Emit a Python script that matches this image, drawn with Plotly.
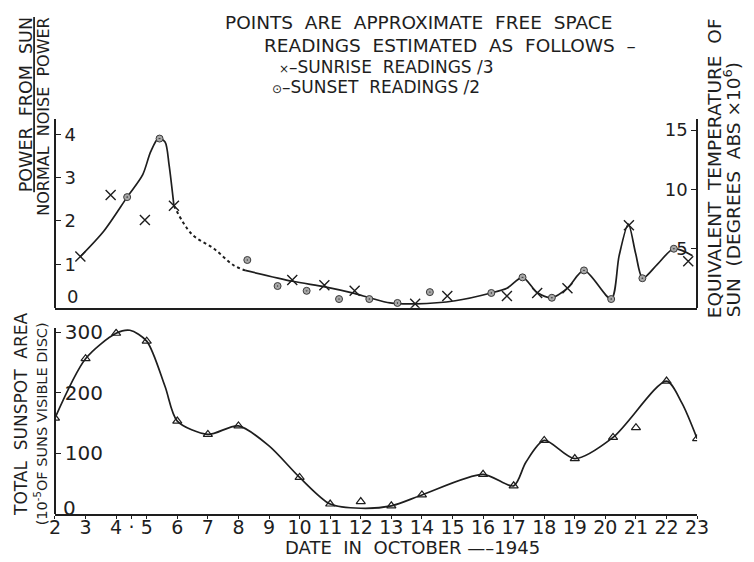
import plotly.graph_objects as go

# ---------------- data ----------------
# upper panel: power from sun / normal noise power
sunrise_dates = [2.83, 3.82, 4.94, 5.89, 9.76, 10.81, 11.80, 13.78, 14.83, 16.78, 17.77, 18.76, 20.77, 22.71]
sunrise_vals = [1.18, 2.60, 2.02, 2.35, 0.64, 0.52, 0.39, 0.09, 0.27, 0.27, 0.34, 0.45, 1.90, 1.07]

sunset_dates = [4.36, 5.42, 8.29, 9.28, 10.23, 11.29, 12.28, 13.20, 14.26, 16.27, 17.29, 18.25, 19.30, 20.19, 21.21, 22.24]
sunset_vals = [2.55, 3.90, 1.10, 0.50, 0.39, 0.20, 0.20, 0.11, 0.36, 0.34, 0.70, 0.23, 0.86, 0.20, 0.68, 1.36]

# hand-drawn fitted curve (solid early part, dotted gap, solid later part)
curve1_dates = [2.83, 3.6, 4.36, 4.87, 5.13, 5.39, 5.60, 5.73, 5.89]
curve1_vals = [1.18, 1.77, 2.55, 3.07, 3.60, 3.91, 3.82, 3.30, 2.35]

dotted_dates = [5.89, 6.47, 7.20, 7.84, 8.22]
dotted_vals = [2.35, 1.70, 1.36, 0.98, 0.86]

curve2_dates = [8.22, 9.77, 10.83, 11.79, 12.29, 12.96, 13.81, 15.09, 16.26, 16.78, 17.29, 17.77, 18.25,
                18.76, 19.30, 20.19, 20.45, 20.75, 20.99, 21.22, 21.70, 22.24, 22.85]
curve2_vals = [0.86, 0.61, 0.48, 0.33, 0.23, 0.11, 0.09, 0.16, 0.34, 0.45, 0.70, 0.35, 0.23,
               0.45, 0.86, 0.20, 1.20, 1.93, 1.25, 0.68, 1.00, 1.36, 1.20]

# lower panel: total sunspot area (10^-5 of sun's visible disc)
spot_dates = [2, 3, 4, 5, 6, 7, 8, 10, 11, 12, 13, 14, 16, 17, 18, 19, 20.25, 21, 22, 23]
spot_vals = [158, 256, 298, 285, 153, 131, 145, 60, 16, 20, 13, 31, 65, 46, 121, 91, 126, 142, 219, 124]

spot_curve_dates = [2, 3, 4, 4.45, 5, 5.6, 6, 7, 8, 9, 10, 11, 12, 13, 14, 16, 17, 17.4, 18, 19, 20.25, 22, 22.5, 23]
spot_curve_vals = [158, 256, 298, 303, 285, 210, 153, 131, 145, 112, 60, 16, 9, 13, 31, 65, 46, 85, 121, 91, 126, 219, 183, 124]

day_ticks = list(range(2, 24))
day_labels = [str(d) for d in day_ticks]

power_ticks = [1, 2, 3, 4]
temp_ticks = [5, 10, 15]
area_ticks = [100, 200, 300]

# ---------------- figure ----------------
OFF = 8                      # default page body margin
W, H = 754 - OFF, 562 - OFF
INK = "#1e1e1e"
FONT = "DejaVu Sans"


def px(x):
    return (x - OFF) / W


def py(y):
    return 1 - (y - OFF) / H


fig = go.Figure()

line_style = dict(color=INK, width=1.7, shape="spline", smoothing=0.8)

fig.add_trace(go.Scatter(x=curve1_dates, y=curve1_vals, mode="lines", line=line_style,
                         xaxis="x", yaxis="y", hoverinfo="skip"))
fig.add_trace(go.Scatter(x=dotted_dates, y=dotted_vals, mode="lines",
                         line=dict(color=INK, width=2, dash="dot", shape="spline"),
                         xaxis="x", yaxis="y", hoverinfo="skip"))
fig.add_trace(go.Scatter(x=curve2_dates, y=curve2_vals, mode="lines", line=line_style,
                         xaxis="x", yaxis="y", hoverinfo="skip"))
fig.add_trace(go.Scatter(x=sunrise_dates, y=sunrise_vals, mode="markers", name="sunrise",
                         marker=dict(symbol="x-thin", size=10, color=INK, line=dict(color=INK, width=1.4)),
                         xaxis="x", yaxis="y"))
fig.add_trace(go.Scatter(x=sunset_dates, y=sunset_vals, mode="markers", name="sunset",
                         marker=dict(symbol="circle-dot", size=7, color="#a8a8a8",
                                     line=dict(color="#3a3a3a", width=1)),
                         xaxis="x", yaxis="y"))

fig.add_trace(go.Scatter(x=spot_curve_dates, y=spot_curve_vals, mode="lines", line=line_style,
                         xaxis="x2", yaxis="y2", hoverinfo="skip"))
fig.add_trace(go.Scatter(x=spot_dates, y=spot_vals, mode="markers", name="sunspot area",
                         marker=dict(symbol="triangle-up-open", size=8, color=INK,
                                     line=dict(color=INK, width=1.2)),
                         xaxis="x2", yaxis="y2"))

# trace so that the temperature axis is drawn
fig.add_trace(go.Scatter(x=[2], y=[0], mode="markers", marker=dict(opacity=0), xaxis="x", yaxis="y3",
                         hoverinfo="skip"))

xdom = [px(50), px(708)]


def tf(size):
    return dict(family=FONT, size=size, color=INK)


axis_common = dict(showline=True, linecolor=INK, linewidth=1.6, showgrid=False, zeroline=False)

fig.update_layout(
    width=W, height=H,
    margin=dict(l=0, r=0, t=0, b=0),
    paper_bgcolor="white", plot_bgcolor="white",
    showlegend=False,
    font=dict(family=FONT, color=INK),
    xaxis=dict(domain=xdom, range=[2, 23], anchor="y", showticklabels=False, ticks="", **axis_common),
    yaxis=dict(domain=[py(304), py(113)], range=[0, 4.34], anchor="free", side="right", position=px(50),
               ticks="outside", ticklen=5, tickcolor=INK, tickvals=power_ticks, tickfont=tf(18),
               **axis_common),
    yaxis3=dict(range=[0, 15.9], overlaying="y", anchor="free", side="left", position=px(708),
                ticks="outside", ticklen=5, tickcolor=INK, tickvals=temp_ticks, tickfont=tf(18),
                **axis_common),
    xaxis2=dict(domain=xdom, range=[2, 23], anchor="y2", ticks="outside", ticklen=3, tickcolor=INK,
                tickvals=day_ticks + [4.5], ticktext=day_labels + ["·"], tickfont=tf(19),
                ticklabelstandoff=-7, **axis_common),
    yaxis2=dict(domain=[py(513), py(325)], range=[0, 306], anchor="free", side="right", position=px(50),
                ticks="outside", ticklen=5, tickcolor=INK, tickvals=area_ticks, tickfont=tf(20),
                **axis_common),
)

ann = []
ann.append(dict(text="POINTS  ARE  APPROXIMATE  FREE  SPACE", x=px(422), y=py(15), font=tf(18.5)))
ann.append(dict(text="READINGS  ESTIMATED  AS  FOLLOWS  –", x=px(455), y=py(38), font=tf(18.5)))
ann.append(dict(text="<span style='font-size:12px'>×</span>–SUNRISE  READINGS /3", x=px(277), y=py(60),
                xanchor="left", font=tf(17)))
ann.append(dict(text="<span style='font-size:12px'>⊙</span>–SUNSET  READINGS /2", x=px(270), y=py(80),
                xanchor="left", font=tf(17)))
for a in ann:
    a.setdefault("xanchor", "center")
    a.update(xref="paper", yref="paper", yanchor="middle", showarrow=False)

# "0" tick labels sitting just above the axis lines
ann.append(dict(text="0", x=px(68), y=py(293), xref="paper", yref="paper", xanchor="center",
                yanchor="middle", showarrow=False, font=tf(18)))
ann.append(dict(text="0", x=px(65), y=py(507), xref="paper", yref="paper", xanchor="center",
                yanchor="middle", showarrow=False, font=tf(20)))


def rot(text, x, y, yanchor, size):
    return dict(text=text, x=px(x), y=py(y), xanchor="center", yanchor=yanchor, textangle=-90,
                xref="paper", yref="paper", showarrow=False, font=tf(size))


ann.append(rot("<u>POWER  FROM  SUN</u>", 20, 7, "top", 17.5))
ann.append(rot("NORMAL  NOISE  POWER", 38, 7, "top", 16))
ann.append(rot("TOTAL  SUNSPOT  AREA", 15, 517, "bottom", 17))
ann.append(rot("(10<sup>-5</sup>OF SUNS VISIBLE DISC)", 36, 527, "bottom", 14.5))
ann.append(rot("EQUIVALENT  TEMPERATURE  OF", 726, 317, "bottom", 18.5))
ann.append(rot("SUN  (DEGREES  ABS ×10<sup>6</sup>)", 744, 316, "bottom", 18.5))

ann.append(dict(text="DATE  IN  OCTOBER —–1945", x=px(416), y=py(547), xanchor="center",
                yanchor="middle", xref="paper", yref="paper", showarrow=False, font=tf(18)))

fig.update_layout(annotations=ann)
fig.write_html("out.html")
